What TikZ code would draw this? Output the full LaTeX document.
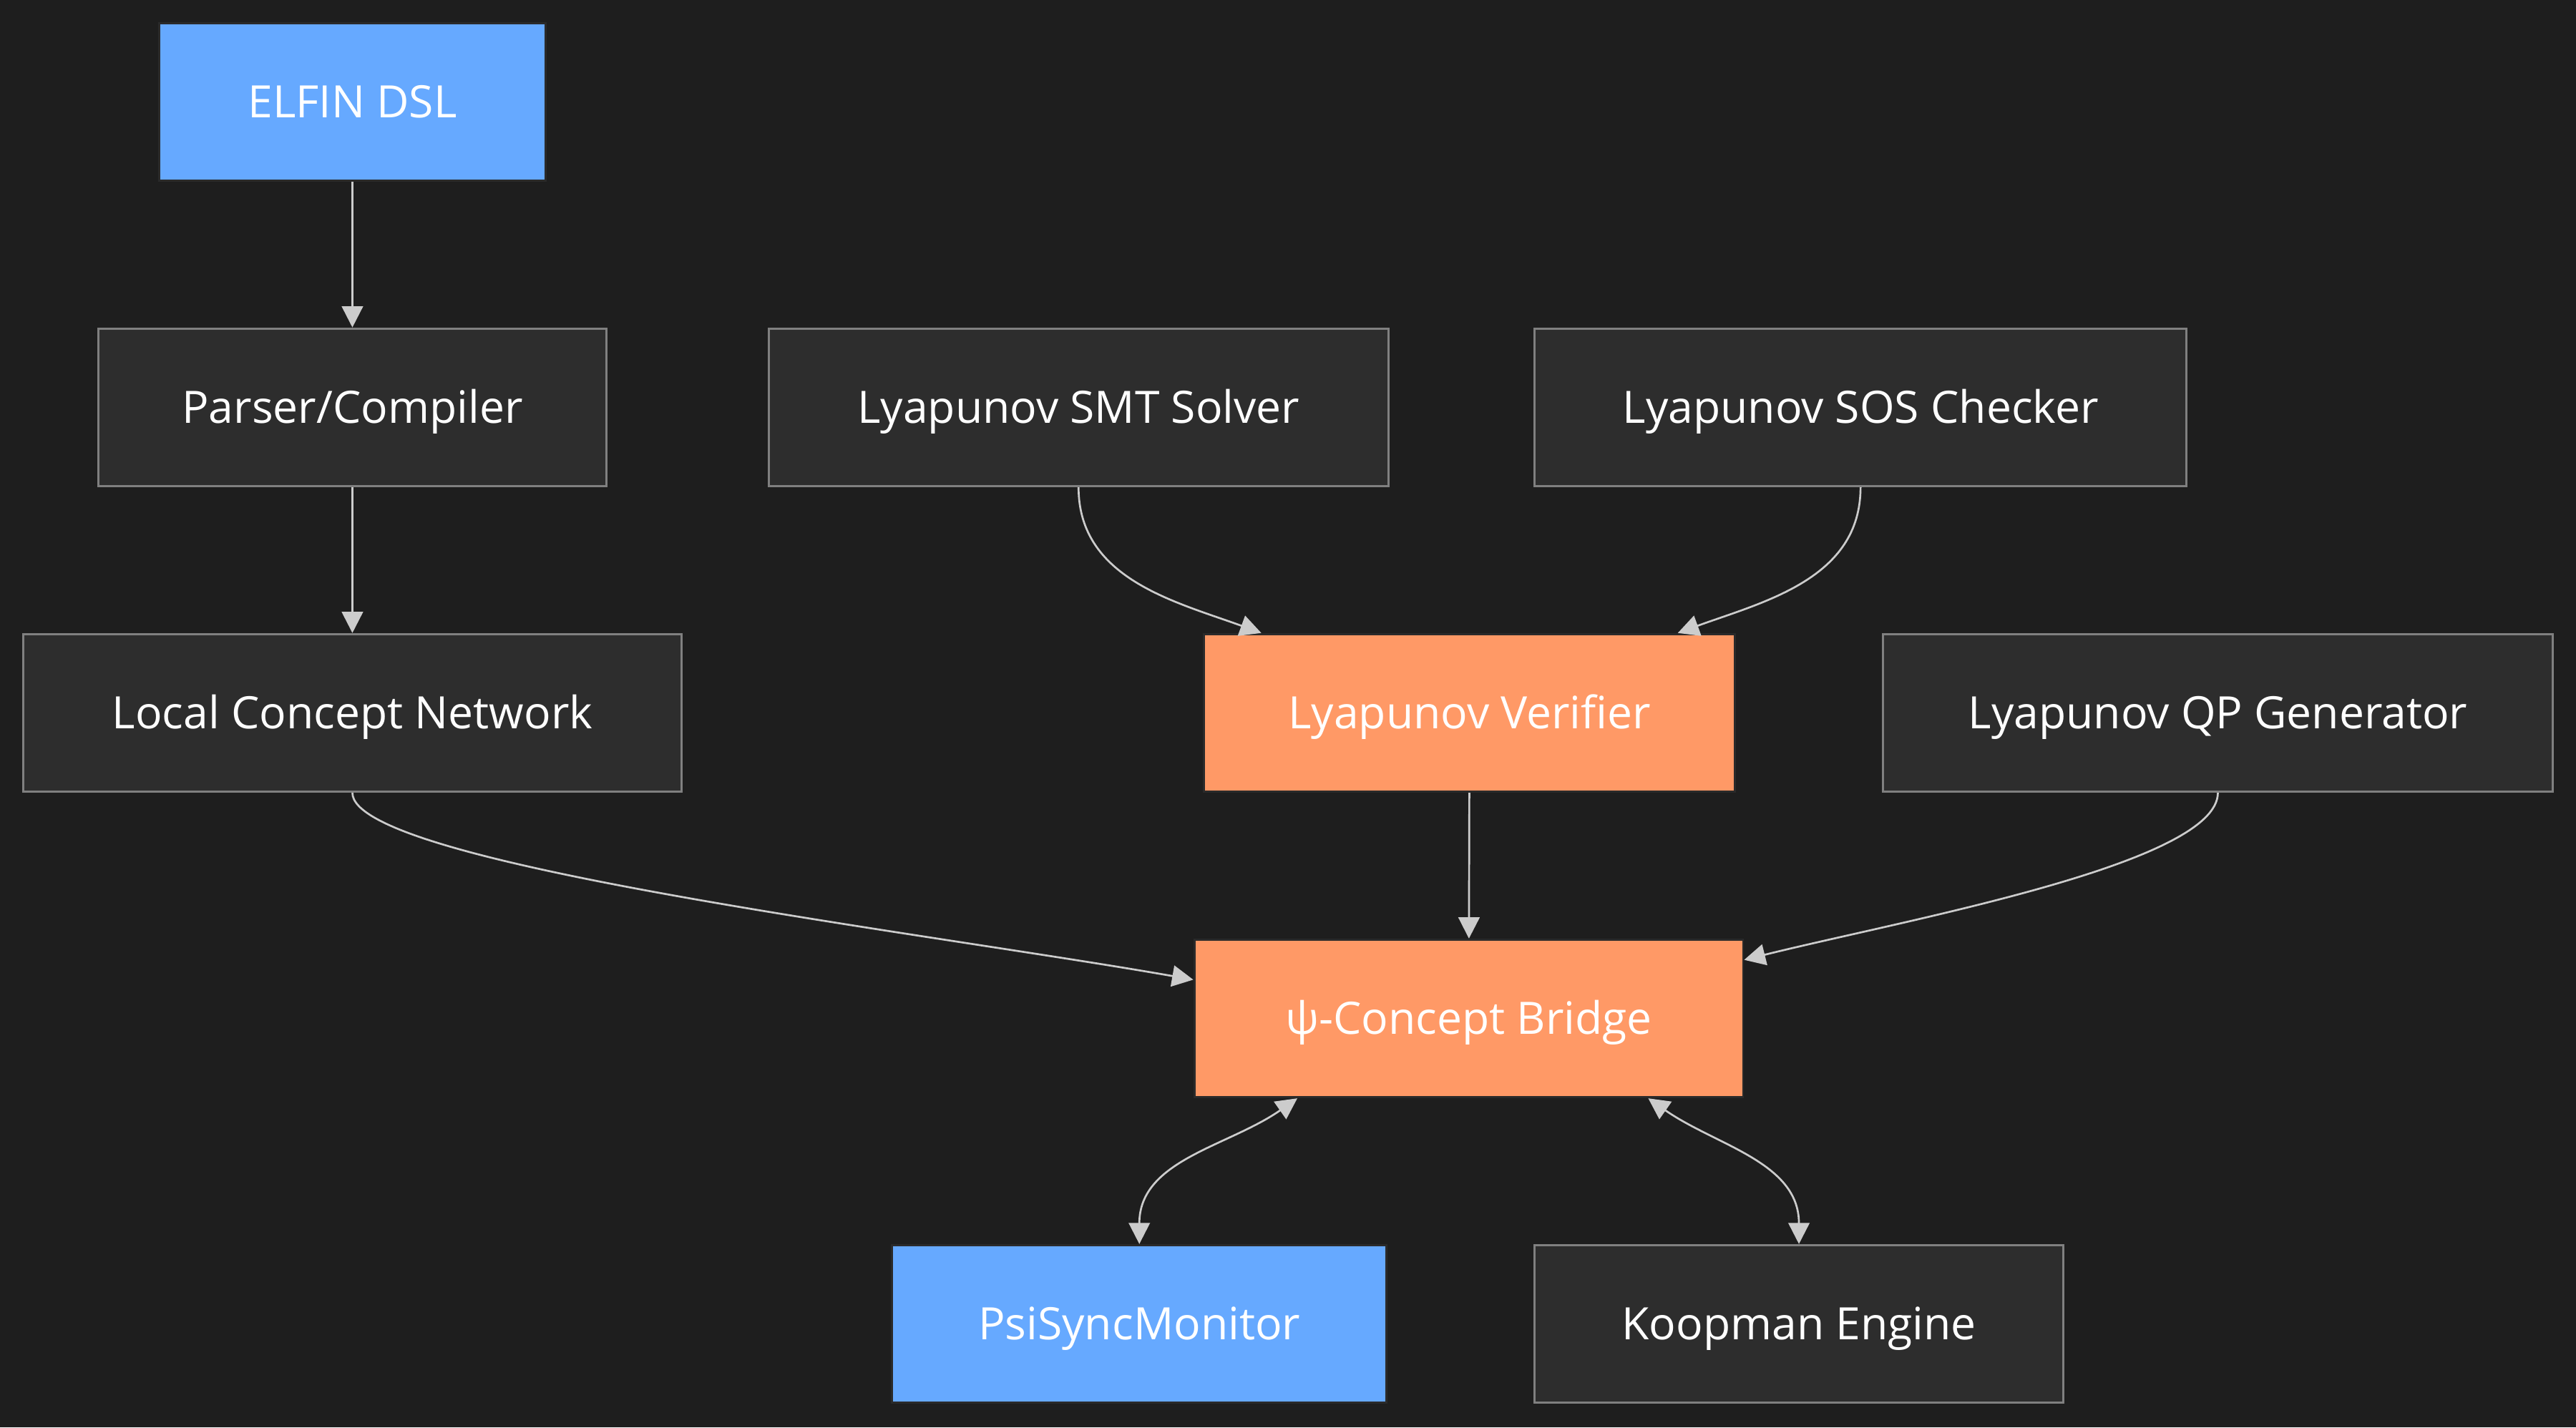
\documentclass[tikz,border=0pt]{standalone}
\usepackage{fontspec}
\setmainfont{Open Sans}
\usetikzlibrary{arrows.meta}
\definecolor{bgcol}{HTML}{1E1E1E}
\definecolor{boxfill}{HTML}{2D2D2D}
\definecolor{boxline}{HTML}{808080}
\definecolor{bluefill}{HTML}{66A9FF}
\definecolor{orangefill}{HTML}{FF9966}
\definecolor{darkline}{HTML}{2A2A2A}
\definecolor{linkcol}{HTML}{CCCCCC}
\tikzstyle{box}=[draw=boxline,fill=boxfill,line width=1.1pt,text=white,
                 minimum height=2.88cm,text height=18.6pt,text depth=2.2pt,
                 font=\fontsize{23.2}{27}\selectfont]
\tikzstyle{blue}=[box,draw=darkline,fill=bluefill]
\tikzstyle{hot}=[box,draw=darkline,fill=orangefill]
\tikzstyle{link}=[draw=linkcol,line width=1pt,-{Triangle[length=11pt,width=11pt]}]
\tikzstyle{both}=[link,{Triangle[length=11pt,width=11pt]}-{Triangle[length=11pt,width=11pt]}]

\begin{document}
\begin{tikzpicture}[x=0.03cm,y=-0.03cm]
  % background
  \fill[bgcol] (0,0) rectangle (1568,869);
  \useasboundingbox (0,0) rectangle (1568,869);

  % left column
  \node[blue,minimum width=7.05cm] (elfin) at (214.5,62) {ELFIN DSL};
  \node[box,minimum width=9.27cm] (parser) at (214.5,248) {Parser/Compiler};
  \node[box,minimum width=12.03cm] (lcn) at (214.5,434) {Local Concept Network};

  % lyapunov tools
  \node[box,minimum width=11.31cm] (smt) at (656.5,248) {Lyapunov SMT Solver};
  \node[box,minimum width=11.91cm] (sos) at (1132.5,248) {Lyapunov SOS Checker};
  \node[hot,minimum width=9.69cm] (verif) at (894.5,434) {Lyapunov Verifier};
  \node[box,minimum width=12.24cm] (qp) at (1350,434) {Lyapunov QP Generator};

  % bridge and below
  \node[hot,minimum width=10.02cm] (bridge) at (894,620) {ψ-Concept Bridge};
  \node[blue,minimum width=9.03cm] (psync) at (693.5,806) {PsiSyncMonitor};
  \node[box,minimum width=9.66cm] (koop) at (1095,806) {Koopman Engine};

  \path (elfin) edge[link] (parser);
  \path (parser) edge[link] (lcn);
  \path (smt.south) edge[link,out=-90,in=160] (verif.159);
  \path (sos.south) edge[link,out=-90,in=20] (verif.21);
  \path (lcn.south) edge[link,out=-90,in=170,out distance=1.3cm,in distance=5cm] (bridge.172);
  \path (verif) edge[link] (bridge);
  \path (qp.south) edge[link,out=-90,in=14,out distance=1.3cm,in distance=3cm] (bridge.12);

  \path (bridge.205) edge[both,out=215,in=90] (psync.north);
  \path (bridge.-24) edge[both,out=-35,in=90] (koop.north);
\end{tikzpicture}
\end{document}
